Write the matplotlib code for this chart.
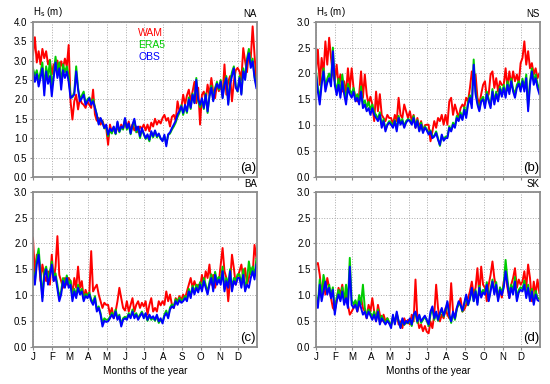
import numpy as np
import matplotlib
matplotlib.use('Agg')
import matplotlib.pyplot as plt
from matplotlib.ticker import FormatStrFormatter

plt.rcParams['font.family'] = ['Liberation Sans', 'DejaVu Sans']

# ---------------- data (sampled roughly every 3 days, 10 values per month) -------------
month_labels = ['J', 'F', 'M', 'A', 'M', 'J', 'J', 'A', 'S', 'O', 'N', 'D']
month_start_day = [0, 31, 59, 90, 120, 151, 181, 212, 243, 273, 304, 334]
series_names = ['WAM', 'ERA5', 'OBS']
region_names = ['NA', 'NS', 'BA', 'SK']
panel_letters = ['(a)', '(b)', '(c)', '(d)']
y_max = [4.0, 3.0, 3.0, 3.0]

NA_WAM = [3.15, 3.6, 2.95, 3.24, 2.9, 3.3, 3.06, 3.24, 2.9, 3.02,
          2.64, 2.9, 2.81, 3.0, 2.72, 2.98, 2.81, 3.05, 2.85, 3.4,
          1.95, 1.48, 1.95, 2.12, 1.74, 2.03, 1.9, 1.86, 1.78, 1.95,
          1.86, 1.78, 2.25, 1.61, 1.45, 1.52, 1.35, 1.45, 1.3, 1.26,
          0.83, 1.35, 1.15, 1.26, 1.12, 1.3, 1.18, 1.35, 1.25, 1.4,
          1.26, 1.43, 1.18, 1.35, 1.2, 1.3, 1.15, 1.3, 1.25, 1.35,
          1.2, 1.35, 1.18, 1.4, 1.3, 1.5, 1.35, 1.45, 1.38, 1.52,
          1.6, 1.45, 1.52, 1.3, 1.55, 1.6, 1.45, 1.95, 1.7, 1.78,
          2.12, 1.86, 2.1, 2.25, 1.95, 2.2, 2.45, 1.9, 2.3, 1.35,
          2.12, 2.2, 1.95, 2.38, 2.1, 2.55, 2.2, 2.03, 2.4, 2.21,
          2.38, 2.1, 2.9, 2.12, 2.46, 2.6, 1.95, 2.46, 2.75, 2.81,
          2.72, 2.5, 3.32, 2.98, 2.7, 3.24, 3.06, 3.88, 3.15, 2.46]
NA_ERA5 = [2.8, 2.6, 2.75, 2.5, 2.7, 2.95, 2.3, 2.85, 2.55, 3.0,
           2.3, 2.65, 3.1, 2.7, 2.95, 2.4, 2.9, 2.7, 2.85, 2.6,
           2.1, 2.05, 2.2, 2.85, 2.3, 2.0, 2.1, 2.2, 1.9, 2.0,
           2.05, 1.9, 2.0, 1.8, 1.6, 1.38, 1.5, 1.42, 1.25, 1.3,
           1.05, 1.2, 1.12, 1.28, 1.1, 1.4, 1.15, 1.28, 1.22, 1.5,
           1.22, 1.35, 1.1, 1.32, 1.45, 1.15, 1.28, 1.0, 1.22, 1.1,
           0.98, 1.05, 0.92, 1.15, 1.02, 1.18, 1.02, 1.1, 0.98, 0.95,
           1.05, 0.85, 1.08, 1.12, 1.22, 1.3, 1.4, 1.55, 1.65, 1.85,
           1.6, 1.82, 1.65, 2.05, 1.75, 2.15, 1.92, 2.55, 1.95, 1.8,
           2.0, 1.75, 2.15, 1.65, 2.1, 2.35, 1.98, 2.3, 2.45, 2.25,
           2.5, 2.05, 2.42, 2.6, 1.9, 2.45, 2.7, 2.85, 2.35, 2.2,
           2.6, 2.15, 2.8, 2.55, 3.05, 3.3, 2.9, 3.05, 2.6, 2.35]
NA_OBS = [2.72, 2.45, 2.65, 2.33, 2.55, 2.8, 2.1, 2.72, 2.4, 2.6,
          2.08, 2.55, 2.95, 2.55, 2.8, 2.25, 2.75, 2.55, 2.72, 2.45,
          2.03, 2.08, 2.12, 2.72, 2.25, 1.95, 2.03, 2.12, 1.86, 1.95,
          2.03, 1.86, 1.95, 1.78, 1.6, 1.35, 1.52, 1.4, 1.26, 1.35,
          1.09, 1.25, 1.18, 1.3, 1.12, 1.43, 1.18, 1.3, 1.26, 1.52,
          1.26, 1.38, 1.12, 1.35, 1.5, 1.2, 1.3, 1.05, 1.26, 1.12,
          1.0, 1.1, 0.96, 1.18, 1.05, 1.2, 1.05, 1.12, 1.0, 0.92,
          1.09, 0.79, 1.1, 1.15, 1.26, 1.35, 1.45, 1.61, 1.7, 1.82,
          1.65, 1.86, 1.69, 2.0, 1.78, 2.12, 1.9, 2.5, 2.0, 1.86,
          2.03, 1.78, 2.12, 1.69, 2.08, 2.3, 1.95, 2.25, 2.4, 2.29,
          2.46, 2.03, 2.38, 2.55, 1.86, 2.38, 2.6, 2.8, 2.3, 2.21,
          2.55, 2.12, 2.72, 2.5, 2.98, 3.19, 2.81, 2.98, 2.55, 2.29]

NS_WAM = [2.04, 2.46, 1.78, 2.3, 2.0, 2.62, 2.17, 2.69, 2.3, 1.98,
          1.85, 2.17, 1.78, 1.98, 1.65, 1.85, 1.6, 2.1, 1.7, 2.1,
          1.72, 1.53, 1.46, 1.6, 2.04, 1.53, 1.98, 1.6, 1.4, 1.55,
          1.4, 1.08, 1.65, 1.27, 1.6, 1.2, 1.14, 1.08, 1.2, 1.14,
          1.14, 1.01, 1.2, 1.08, 1.53, 1.2, 1.14, 1.4, 1.27, 1.14,
          1.27, 1.08, 1.2, 0.95, 1.14, 0.95, 1.08, 0.88, 1.0, 1.01,
          1.01, 0.69, 0.88, 1.08, 0.95, 1.14, 1.08, 1.2, 1.01, 1.2,
          1.01, 1.46, 1.53, 1.2, 1.4, 1.27, 1.14, 1.33, 1.4, 1.35,
          1.53, 1.46, 1.72, 2.04, 1.78, 1.98, 1.53, 1.4, 1.6, 1.78,
          1.85, 1.53, 1.6, 1.98, 2.04, 1.72, 1.91, 1.65, 1.85, 1.78,
          1.78, 2.1, 1.72, 2.04, 1.78, 2.04, 1.85, 1.98, 1.8, 2.2,
          2.3, 2.62, 2.17, 2.43, 2.1, 2.2, 1.98, 2.1, 1.91, 2.0]
NS_ERA5 = [2.05, 1.72, 1.5, 1.85, 2.1, 1.75, 1.9, 2.0, 1.85, 2.5,
           1.85, 1.65, 1.9, 1.6, 1.98, 1.68, 1.5, 1.8, 1.68, 1.6,
           1.72, 1.5, 1.6, 1.45, 1.75, 1.4, 1.48, 1.35, 1.45, 1.3,
           1.4, 1.25, 1.2, 1.12, 1.25, 1.0, 1.12, 0.92, 1.02, 1.08,
           1.05, 0.98, 1.1, 0.92, 1.18, 1.05, 1.12, 0.98, 1.08, 1.12,
           1.1, 1.05, 1.18, 0.98, 1.1, 0.9, 1.05, 0.88, 0.98, 0.92,
           0.85, 0.9, 0.78, 0.8, 0.88, 0.75, 0.6, 0.8, 0.72, 0.78,
           0.78, 0.98, 0.9, 1.05, 0.98, 1.18, 1.12, 1.25, 1.12, 1.35,
           1.2, 1.45, 1.58, 1.4, 2.27, 1.65, 1.45, 1.3, 1.5, 1.55,
           1.38, 1.65, 1.5, 1.38, 1.7, 1.45, 1.65, 1.5, 1.75, 1.6,
           1.78, 1.58, 1.85, 1.65, 1.9, 1.7, 1.6, 1.78, 1.85, 1.72,
           1.9, 1.72, 1.98, 1.35, 1.85, 2.1, 1.85, 1.98, 1.8, 1.7]
NS_OBS = [1.98, 1.65, 1.4, 1.78, 2.04, 1.65, 1.82, 1.91, 1.75, 2.43,
          1.78, 1.58, 1.78, 1.53, 1.85, 1.6, 1.4, 1.72, 1.6, 1.53,
          1.65, 1.46, 1.53, 1.4, 1.65, 1.33, 1.4, 1.27, 1.33, 1.2,
          1.33, 1.2, 1.14, 1.08, 1.2, 0.95, 1.08, 0.88, 1.0, 1.05,
          1.01, 0.95, 1.08, 0.88, 1.14, 1.01, 1.08, 0.95, 1.05, 1.1,
          1.08, 1.01, 1.14, 0.95, 1.08, 0.88, 1.01, 0.85, 0.95, 0.9,
          0.82, 0.88, 0.75, 0.78, 0.85, 0.72, 0.62, 0.82, 0.7, 0.75,
          0.75, 0.95, 0.88, 1.01, 0.95, 1.14, 1.08, 1.2, 1.1, 1.3,
          1.14, 1.4, 1.53, 1.33, 2.17, 1.6, 1.4, 1.27, 1.46, 1.5,
          1.33, 1.6, 1.46, 1.33, 1.65, 1.4, 1.6, 1.46, 1.7, 1.55,
          1.72, 1.53, 1.78, 1.6, 1.85, 1.65, 1.53, 1.72, 1.8, 1.65,
          1.85, 1.65, 1.91, 1.27, 1.78, 2.04, 1.78, 1.91, 1.72, 1.6]

BA_WAM = [2.1, 1.39, 1.78, 1.72, 1.27, 1.59, 1.39, 1.27, 1.46, 1.2,
          1.78, 1.27, 1.55, 2.14, 1.39, 1.27, 1.14, 1.33, 1.2, 1.33,
          1.27, 1.01, 1.33, 1.14, 1.55, 1.14, 1.27, 0.94, 1.1, 1.0,
          1.01, 1.85, 1.07, 1.14, 1.2, 1.01, 0.88, 0.75, 0.85, 0.81,
          0.81, 0.62, 0.75, 0.55, 0.68, 0.88, 1.14, 0.94, 0.75, 0.7,
          0.88, 0.68, 0.81, 0.94, 0.68, 0.81, 0.88, 0.75, 0.85, 0.78,
          0.88, 0.62, 0.81, 0.94, 0.68, 0.75, 0.68, 0.88, 0.8, 0.88,
          0.81, 1.07, 0.88, 1.01, 0.81, 0.75, 0.94, 0.88, 0.98, 0.9,
          1.01, 0.94, 1.07, 1.2, 1.33, 1.14, 1.27, 1.14, 1.2, 1.14,
          1.39, 1.2, 1.46, 1.33, 1.59, 1.2, 1.39, 1.14, 1.3, 1.25,
          1.59, 1.91, 1.46, 1.33, 0.88, 1.27, 1.78, 1.52, 1.2, 1.35,
          1.46, 1.59, 1.33, 1.52, 1.2, 1.33, 1.52, 1.4, 1.97, 1.72]
BA_ERA5 = [1.5, 1.25, 1.7, 1.9, 1.45, 0.95, 1.45, 1.55, 1.3, 1.45,
           1.65, 1.35, 1.42, 1.2, 0.95, 1.08, 1.33, 1.2, 1.38, 1.2,
           1.28, 0.95, 1.12, 1.0, 1.2, 1.05, 1.12, 0.92, 1.02, 0.98,
           1.05, 0.92, 0.85, 0.98, 0.72, 0.78, 0.65, 0.45, 0.55, 0.52,
           0.52, 0.58, 0.66, 0.58, 0.72, 0.55, 0.62, 0.42, 0.55, 0.58,
           0.55, 0.65, 0.58, 0.72, 0.58, 0.65, 0.55, 0.62, 0.68, 0.58,
           0.62, 0.5, 0.6, 0.52, 0.56, 0.5, 0.6, 0.46, 0.52, 0.48,
           0.62, 0.7, 0.58, 0.76, 0.82, 0.78, 0.92, 0.85, 0.95, 0.88,
           0.92, 0.98, 0.92, 1.12, 0.98, 1.18, 1.05, 1.2, 1.1, 1.25,
           1.12, 1.33, 1.2, 1.05, 1.25, 1.4, 1.12, 1.45, 1.28, 1.35,
           1.28, 1.55, 1.12, 1.33, 1.2, 1.5, 1.12, 1.33, 1.28, 1.4,
           1.4, 1.2, 1.5, 1.12, 1.28, 1.65, 1.4, 1.55, 1.38, 1.7]
BA_OBS = [1.46, 1.2, 1.59, 1.78, 1.33, 0.88, 1.36, 1.5, 1.2, 1.36,
          1.59, 1.27, 1.36, 1.12, 0.88, 1.01, 1.27, 1.14, 1.33, 1.14,
          1.2, 0.88, 1.07, 0.94, 1.14, 1.01, 1.07, 0.88, 0.98, 0.94,
          1.01, 0.88, 0.81, 0.94, 0.68, 0.75, 0.62, 0.39, 0.5, 0.48,
          0.49, 0.55, 0.62, 0.55, 0.68, 0.52, 0.59, 0.39, 0.52, 0.55,
          0.52, 0.62, 0.55, 0.68, 0.55, 0.62, 0.52, 0.59, 0.65, 0.55,
          0.65, 0.52, 0.62, 0.55, 0.59, 0.52, 0.62, 0.49, 0.55, 0.45,
          0.59, 0.65, 0.55, 0.72, 0.78, 0.75, 0.88, 0.81, 0.9, 0.85,
          0.88, 0.94, 0.88, 1.07, 0.94, 1.14, 1.01, 1.14, 1.05, 1.2,
          1.07, 1.27, 1.14, 1.01, 1.2, 1.33, 1.07, 1.39, 1.2, 1.3,
          1.2, 1.46, 1.07, 1.27, 1.14, 1.46, 1.07, 1.27, 1.2, 1.33,
          1.33, 1.14, 1.39, 1.07, 1.2, 1.14, 1.33, 1.46, 1.3, 1.59]

SK_WAM = [1.59, 1.62, 1.39, 1.01, 1.26, 1.01, 1.33, 1.14, 0.94, 0.75,
          0.7, 0.88, 1.14, 1.01, 1.2, 0.88, 1.07, 0.81, 0.62, 0.68,
          0.75, 0.88, 0.68, 0.81, 0.94, 0.75, 0.68, 0.55, 0.81, 0.68,
          0.94, 0.68, 0.49, 0.81, 0.62, 0.49, 0.62, 0.49, 0.55, 0.45,
          0.43, 0.55, 0.49, 0.62, 0.43, 0.49, 0.36, 0.55, 0.45, 0.52,
          0.43, 0.62, 0.49, 1.3, 0.55, 0.36, 0.43, 0.3, 0.4, 0.29,
          0.26, 0.49, 0.36, 0.62, 1.2, 0.75, 0.49, 0.62, 0.55, 0.75,
          0.62, 0.55, 1.23, 0.68, 0.55, 0.75, 0.81, 0.94, 0.68, 0.72,
          0.81, 0.94, 1.07, 1.26, 1.01, 1.14, 1.52, 1.0, 1.55, 1.2,
          1.14, 0.88, 1.2, 1.39, 1.65, 1.33, 1.14, 0.94, 1.1, 0.95,
          1.26, 1.39, 1.14, 0.94, 1.2, 1.33, 1.52, 1.14, 1.3, 1.2,
          1.26, 1.46, 1.14, 1.59, 1.33, 0.88, 1.26, 1.01, 1.3, 1.04]
SK_ERA5 = [1.0, 0.8, 1.3, 0.95, 1.39, 1.2, 1.05, 1.2, 1.0, 1.15,
           0.7, 0.95, 1.1, 0.92, 1.15, 0.88, 1.2, 0.85, 1.72, 0.9,
           0.82, 0.9, 0.75, 1.0, 0.82, 1.2, 0.75, 0.6, 0.72, 0.65,
           0.58, 0.68, 0.52, 0.72, 0.48, 0.6, 0.52, 0.45, 0.55, 0.48,
           0.4, 0.6, 0.45, 0.65, 0.5, 0.38, 0.52, 0.42, 0.48, 0.45,
           0.52, 0.4, 0.6, 0.65, 0.46, 0.6, 0.46, 0.52, 0.58, 0.5,
           0.4, 0.62, 0.75, 0.52, 0.65, 0.5, 0.62, 0.72, 0.58, 0.7,
           0.85, 0.6, 0.46, 0.65, 0.52, 0.72, 0.85, 0.8, 0.68, 0.82,
           0.98, 0.8, 0.92, 1.12, 0.88, 1.1, 0.85, 1.18, 1.0, 1.1,
           1.05, 1.25, 0.9, 1.12, 1.3, 1.05, 1.25, 0.92, 1.15, 1.05,
           1.2, 1.68, 1.3, 1.0, 1.2, 1.08, 1.35, 0.92, 1.1, 1.15,
           1.12, 1.28, 0.98, 1.2, 0.92, 1.12, 0.85, 1.08, 0.95, 0.92]
SK_OBS = [0.94, 0.75, 1.2, 0.88, 1.07, 1.26, 1.01, 1.14, 0.94, 1.1,
          0.62, 0.88, 1.01, 0.88, 1.07, 0.81, 0.94, 0.75, 1.55, 0.81,
          0.75, 0.81, 0.68, 0.88, 0.75, 0.62, 0.68, 0.55, 0.68, 0.6,
          0.52, 0.62, 0.49, 0.68, 0.43, 0.55, 0.49, 0.43, 0.5, 0.45,
          0.36, 0.62, 0.43, 0.68, 0.49, 0.36, 0.55, 0.43, 0.5, 0.46,
          0.55, 0.43, 0.62, 0.68, 0.49, 0.62, 0.49, 0.55, 0.6, 0.52,
          0.43, 0.68, 0.78, 0.55, 0.68, 0.52, 0.65, 0.75, 0.6, 0.72,
          0.88, 0.62, 0.49, 0.68, 0.55, 0.75, 0.88, 0.81, 0.7, 0.85,
          1.01, 0.81, 0.94, 1.14, 0.88, 1.07, 0.81, 1.14, 0.95, 1.05,
          1.01, 1.2, 0.88, 1.07, 1.26, 1.01, 1.2, 0.88, 1.1, 1.0,
          1.14, 1.46, 1.2, 0.94, 1.14, 1.01, 1.26, 0.88, 1.05, 1.1,
          1.07, 1.2, 0.94, 1.14, 0.88, 1.07, 0.81, 1.01, 0.9, 0.88]

panel_data = [(NA_WAM, NA_ERA5, NA_OBS), (NS_WAM, NS_ERA5, NS_OBS),
              (BA_WAM, BA_ERA5, BA_OBS), (SK_WAM, SK_ERA5, SK_OBS)]

days = np.linspace(0, 364, len(NA_OBS))

# ---------------- styling ----------------
colors = ['#ff0000', '#00cc00', '#0000ff']
spine_col = '#8c8c8c'
fig = plt.figure(figsize=(5.5, 3.84), dpi=100)

W, H = 550.0, 384.0
lefts = [33 / W, 316 / W]
width = 224 / W
tops = [(21.7, 177.0), (191.7, 346.7)]

axes = []
for r in range(2):
    for c in range(2):
        t, b = tops[r]
        ax = fig.add_axes([lefts[c], 1 - b / H, width, (b - t) / H])
        axes.append(ax)

for i, ax in enumerate(axes):
    data = panel_data[i]
    for s, col in zip(data, colors):
        ax.plot(days, s, color=col, lw=1.4, solid_joinstyle='round')
    ax.set_xlim(0, 365)
    ax.set_ylim(0, y_max[i])
    ax.set_yticks(np.arange(0, y_max[i] + 0.01, 0.5))
    ax.yaxis.set_major_formatter(FormatStrFormatter('%.1f'))
    ax.set_xticks(month_start_day)
    ax.grid(True, color='#aaaaaa', linestyle=':', linewidth=0.7)
    ax.set_axisbelow(True)
    for sp in ax.spines.values():
        sp.set_color(spine_col)
        sp.set_linewidth(1.3)
    ax.tick_params(axis='both', length=2, width=0.8, color=spine_col,
                   labelsize=7, pad=2)
    if i < 2:
        ax.set_xticklabels([])
        ax.text(0.0, 1.015, r'H$_{\mathrm{s}}$ (m)', transform=ax.transAxes,
                ha='left', va='bottom', fontsize=7)
    else:
        ax.set_xticklabels(month_labels)
        ax.set_xlabel('Months of the year', fontsize=7.3, labelpad=3)
    ax.text(1.0, 1.015, region_names[i], transform=ax.transAxes,
            ha='right', va='bottom', fontsize=7)
    ax.text(0.995, 0.02, panel_letters[i], transform=ax.transAxes,
            ha='right', va='bottom', fontsize=9.5)

# legend as coloured text in panel (a)
for k, (name, col) in enumerate(zip(series_names, colors)):
    axes[0].text(0.47, 0.927 - k * 0.077, name, color=col, transform=axes[0].transAxes,
                 ha='left', va='center', fontsize=7.5)

fig.savefig('out.png', dpi=100)
